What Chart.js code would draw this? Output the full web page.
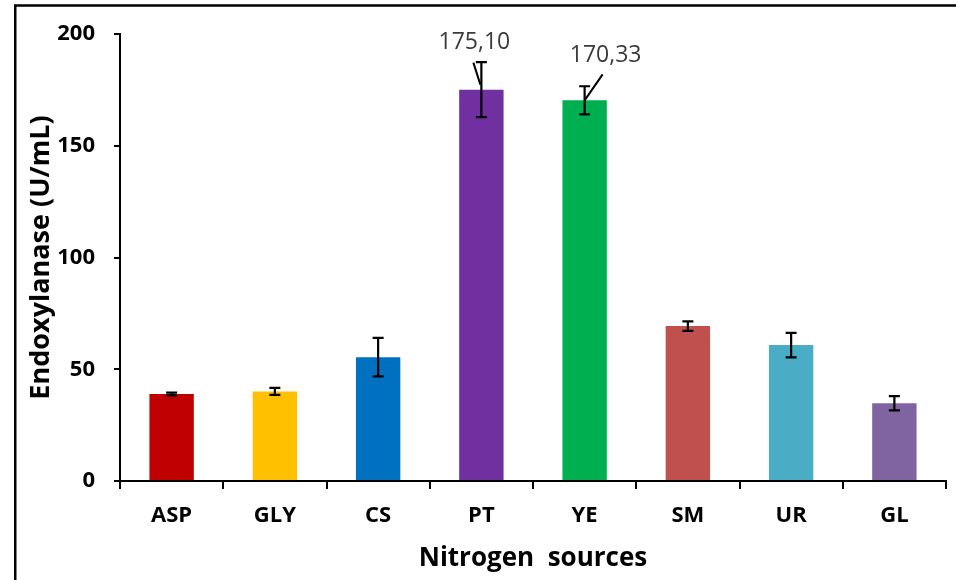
<!DOCTYPE html>
<html>
<head>
<meta charset="utf-8">
<style>
  html, body { margin: 0; padding: 0; background: #fff; }
  #wrap { width: 956px; height: 580px; position: relative; }
</style>
<script src="https://cdn.jsdelivr.net/npm/chart.js@4.4.1/dist/chart.umd.min.js"></script>
</head>
<body>
<div id="wrap"><canvas id="chart" width="956" height="580"></canvas></div>
<script>
// Nitrogen sources tested and the endoxylanase activity each gave
const categories = ['ASP', 'GLY', 'CS', 'PT', 'YE', 'SM', 'UR', 'GL'];
const activity = [38.9, 40.1, 55.4, 175.10, 170.33, 69.3, 60.8, 34.8];
const errors = [0.6, 1.6, 8.6, 12.3, 6.3, 2.1, 5.5, 3.2];
const calloutIdx = [3, 4];
const yTicks = [0, 50, 100, 150, 200];

const barColors = ['#C00000', '#FFC000', '#0070C0', '#7030A0', '#00B050', '#C0504D', '#4BACC6', '#8064A2'];
const FONT = "'Open Sans', 'DejaVu Sans', sans-serif";

// outer frame (left and top rules)
const framePlugin = {
  id: 'frame',
  beforeDraw(chart) {
    const ctx = chart.ctx;
    ctx.save();
    ctx.strokeStyle = '#000';
    ctx.lineWidth = 2.5;
    ctx.beginPath();
    ctx.moveTo(15.25, chart.height);
    ctx.lineTo(15.25, 5.5);
    ctx.lineTo(chart.width, 5.5);
    ctx.stroke();
    ctx.restore();
  }
};

// label placement relative to the bar top for the two called-out bars
const calloutLayout = {
  3: { lx: -7, ly: -47, sx: -8, sy: -27, ex: -1, ey: -5 },
  4: { lx: 21, ly: -45, sx: 18, sy: -26, ex: 0, ey: 0 }
};

const errorBarPlugin = {
  id: 'errorBars',
  afterDatasetsDraw(chart) {
    const ctx = chart.ctx;
    const meta = chart.getDatasetMeta(0);
    const yScale = chart.scales.y;
    ctx.save();
    ctx.strokeStyle = '#000';
    ctx.lineWidth = 2.2;
    meta.data.forEach((bar, i) => {
      const x = bar.x;
      const hi = yScale.getPixelForValue(activity[i] + errors[i]);
      const lo = yScale.getPixelForValue(activity[i] - errors[i]);
      const cap = 5.5;
      ctx.beginPath();
      ctx.moveTo(x, hi); ctx.lineTo(x, lo);
      ctx.moveTo(x - cap, hi); ctx.lineTo(x + cap, hi);
      ctx.moveTo(x - cap, lo); ctx.lineTo(x + cap, lo);
      ctx.stroke();
    });
    // value call-outs with leader lines
    ctx.font = `23px ${FONT}`;
    ctx.fillStyle = '#3a3a3a';
    ctx.textAlign = 'center';
    ctx.textBaseline = 'middle';
    calloutIdx.forEach(i => {
      const bar = meta.data[i];
      const top = yScale.getPixelForValue(activity[i]);
      const L = calloutLayout[i];
      ctx.beginPath();
      ctx.strokeStyle = '#000';
      ctx.lineWidth = 2;
      ctx.moveTo(bar.x + L.sx, top + L.sy);
      ctx.lineTo(bar.x + L.ex, top + L.ey);
      ctx.stroke();
      ctx.fillText(activity[i].toFixed(2).replace('.', ','), bar.x + L.lx, top + L.ly);
    });
    ctx.restore();
  }
};

new Chart(document.getElementById('chart'), {
  type: 'bar',
  data: {
    labels: categories,
    datasets: [{
      data: activity,
      backgroundColor: barColors,
      borderWidth: 0,
      barPercentage: 0.43,
      categoryPercentage: 1.0
    }]
  },
  options: {
    responsive: false,
    animation: false,
    devicePixelRatio: 1,
    layout: { padding: { top: 34, right: 10, bottom: 0, left: 0 } },
    plugins: { legend: { display: false }, tooltip: { enabled: false } },
    scales: {
      x: {
        afterFit(scale) { scale.height = 99; },
        border: { color: '#000', width: 2 },
        grid: { drawOnChartArea: false, drawTicks: true, tickLength: 8, color: '#000', lineWidth: 2, offset: true },
        ticks: { color: '#000', padding: 14, font: { family: FONT, size: 22, weight: 'bold' } },
        title: {
          display: true,
          text: 'Nitrogen  sources',
          color: '#000',
          font: { family: FONT, size: 26, weight: 'bold' },
          padding: { top: 0, bottom: 6 }
        }
      },
      y: {
        min: 0,
        max: 200,
        afterFit(scale) { scale.width = 120; },
        afterBuildTicks(scale) { scale.ticks = yTicks.map(v => ({ value: v })); },
        border: { color: '#000', width: 2 },
        grid: { drawOnChartArea: false, drawTicks: true, tickLength: 6, color: '#000', lineWidth: 2 },
        ticks: { color: '#000', padding: 19, font: { family: FONT, size: 22, weight: 'bold' } },
        title: {
          display: true,
          text: 'Endoxylanase (U/mL)',
          color: '#000',
          font: { family: FONT, size: 27, weight: 'bold' },
          padding: { top: 25, bottom: 0 }
        }
      }
    }
  },
  plugins: [framePlugin, errorBarPlugin]
});
</script>
</body>
</html>
